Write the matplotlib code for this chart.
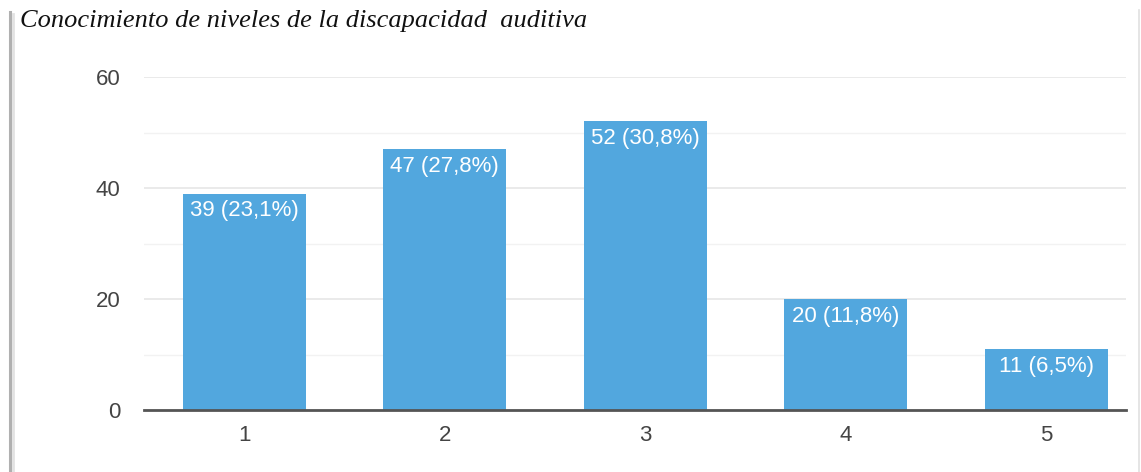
import matplotlib
matplotlib.use("Agg")
import matplotlib.pyplot as plt
from matplotlib.lines import Line2D

niveles = ["1", "2", "3", "4", "5"]
cantidad = [39, 47, 52, 20, 11]
etiquetas = ["39 (23,1%)", "47 (27,8%)", "52 (30,8%)", "20 (11,8%)", "11 (6,5%)"]
titulo = "Conocimiento de niveles de la discapacidad  auditiva"

azul = "#52a7de"

fig = plt.figure(figsize=(11.41, 4.72), dpi=100)
ax = fig.add_axes([144/1141, 1-410/472, (1126-144)/1141, (410-77)/472])

x = list(range(1, len(niveles)+1))
ax.bar(x, cantidad, width=0.613, color=azul, zorder=3)
for xi, v, t in zip(x, cantidad, etiquetas):
    ax.annotate(t, (xi, v), xytext=(0, -5), textcoords="offset points",
                ha="center", va="top", color="white", fontsize=16,
                family="Liberation Sans", zorder=4)

# el eje termina antes del ultimo hueco
ax.set_xlim(0.5, 0.5 + (1126-144)/200.5)
ax.set_ylim(0, 60)
ax.set_yticks([0, 20, 40, 60])
ax.set_yticks([10, 30, 50], minor=True)
ax.set_xticks(x)
ax.set_xticklabels(niveles)
ax.grid(axis="y", which="major", color="#e6e6e6", lw=1.2, zorder=0)
ax.grid(axis="y", which="minor", color="#f2f2f2", lw=1.0, zorder=0)
for s in ["top", "right", "left"]:
    ax.spines[s].set_visible(False)
ax.spines["bottom"].set_color("#555555")
ax.spines["bottom"].set_linewidth(2)
ax.spines["bottom"].set_zorder(5)
ax.tick_params(axis="both", which="both", length=0, labelsize=16, labelcolor="#444444")
ax.tick_params(axis="y", pad=17)
ax.tick_params(axis="x", pad=11)
for lb in ax.get_xticklabels() + ax.get_yticklabels():
    lb.set_family("Liberation Sans")

fig.text(20/1141, 1-27/472, titulo, fontsize=19, style="italic",
         family="Liberation Serif", color="#111111", va="baseline", ha="left")

# marco con sombra
fig.add_artist(Line2D([10/1141, 10/1141], [0, 1-12/472], transform=fig.transFigure, color="#b0b0b0", lw=2.2))
fig.add_artist(Line2D([13/1141, 13/1141], [0, 1-14/472], transform=fig.transFigure, color="#e2e2e2", lw=2))
fig.add_artist(Line2D([1139/1141, 1139/1141], [0, 1-10/472], transform=fig.transFigure, color="#e0e0e0", lw=1.2))

fig.savefig("out.png", dpi=100)
